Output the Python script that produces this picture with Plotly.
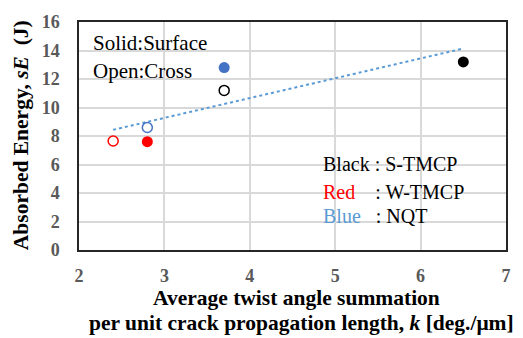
import numpy as np
import plotly.graph_objects as go

# Data (k, sE)
s_tmcp_surface_x = [6.5]
s_tmcp_surface_y = [13.2]
s_tmcp_cross_x = [3.7]
s_tmcp_cross_y = [11.2]
w_tmcp_surface_x = [2.8]
w_tmcp_surface_y = [7.6]
w_tmcp_cross_x = [2.4]
w_tmcp_cross_y = [7.65]
nqt_surface_x = [3.7]
nqt_surface_y = [12.8]
nqt_cross_x = [2.8]
nqt_cross_y = [8.6]

x_ticks = [2, 3, 4, 5, 6, 7]
y_ticks = [0, 2, 4, 6, 8, 10, 12, 14, 16]

all_x = (s_tmcp_surface_x + s_tmcp_cross_x + w_tmcp_surface_x + w_tmcp_cross_x
         + nqt_surface_x + nqt_cross_x)
all_y = (s_tmcp_surface_y + s_tmcp_cross_y + w_tmcp_surface_y + w_tmcp_cross_y
         + nqt_surface_y + nqt_cross_y)
slope, intercept = np.polyfit(all_x, all_y, 1)
trend_x = [min(all_x), max(all_x)]
trend_y = [slope * v + intercept for v in trend_x]

SERIF = "Liberation Serif"
BLUE = "#4472C4"
RED = "#FF0000"
BLACK = "#000000"


def sp(text, color="#000000"):
    return f"<span style='font-family:Liberation Serif;color:{color}'>{text}</span>"


fig = go.Figure()

fig.add_trace(go.Scatter(x=trend_x, y=trend_y, mode="lines",
                         line=dict(color="#5B9BD5", width=2, dash="dot"),
                         hoverinfo="skip"))

def filled(x, y, c):
    fig.add_trace(go.Scatter(x=x, y=y, mode="markers",
                             marker=dict(size=11, color=c, line=dict(width=0))))

def opened(x, y, c):
    fig.add_trace(go.Scatter(x=x, y=y, mode="markers",
                             marker=dict(size=10, color="rgba(255,255,255,1)",
                                         line=dict(width=1.5, color=c))))

filled(s_tmcp_surface_x, s_tmcp_surface_y, BLACK)
opened(s_tmcp_cross_x, s_tmcp_cross_y, BLACK)
filled(w_tmcp_surface_x, w_tmcp_surface_y, RED)
opened(w_tmcp_cross_x, w_tmcp_cross_y, RED)
filled(nqt_surface_x, nqt_surface_y, BLUE)
opened(nqt_cross_x, nqt_cross_y, BLUE)

tickfont = dict(family=SERIF, size=18, color="#595959")

fig.update_layout(
    width=523, height=338,
    margin=dict(l=79, r=15, t=14, b=88),
    paper_bgcolor="white", plot_bgcolor="white",
    showlegend=False,
    font=dict(family=SERIF),
    xaxis=dict(range=[2, 7], tickvals=x_ticks,
               ticktext=[sp(f"<b>{v}</b>", "#595959") for v in x_ticks],
               tickfont=tickfont, showgrid=True, gridcolor="#D9D9D9", gridwidth=1.5,
               zeroline=False, showline=True, linecolor="#262626", linewidth=1.5,
               mirror=True, ticks="outside", ticklen=9, tickcolor="rgba(0,0,0,0)"),
    yaxis=dict(range=[0, 16], tickvals=y_ticks,
               ticktext=[sp(f"<b>{v}</b>", "#595959") for v in y_ticks],
               tickfont=tickfont, showgrid=True, gridcolor="#D9D9D9", gridwidth=1.5,
               zeroline=False, showline=True, linecolor="#262626", linewidth=1.5,
               mirror=True, ticks="outside", ticklen=14, tickcolor="rgba(0,0,0,0)"),
)

# White box behind the "Solid/Open" note (covers grid lines)
fig.add_shape(type="rect", xref="paper", yref="paper", x0=0.002, x1=0.333, y0=0.686, y1=0.975,
              fillcolor="white", line=dict(width=0), layer="between")

ann = []
note_font = dict(family=SERIF, size=21, color="black")
ann.append(dict(xref="paper", yref="paper", x=0.028, y=0.91, xanchor="left", yanchor="middle",
                text=sp("Solid:Surface"), showarrow=False, font=note_font))
ann.append(dict(xref="paper", yref="paper", x=0.028, y=0.785, xanchor="left", yanchor="middle",
                text=sp("Open:Cross"), showarrow=False, font=note_font))
# Color key (bottom-right)
key_font = dict(family=SERIF, size=20, color="black")
ann.append(dict(xref="paper", yref="paper", x=0.567, y=0.378, xanchor="left", yanchor="middle",
                text=sp("Black : S-TMCP"), showarrow=False, font=key_font))
ann.append(dict(xref="paper", yref="paper", x=0.567, y=0.256, xanchor="left", yanchor="middle",
                text=sp("Red", "#FF0000") + sp("    : W-TMCP"), showarrow=False, font=key_font))
ann.append(dict(xref="paper", yref="paper", x=0.567, y=0.148, xanchor="left", yanchor="middle",
                text=sp("Blue", "#5B9BD5") + sp("   : NQT"), showarrow=False, font=key_font))
# Axis titles
title_font = dict(family=SERIF, size=21.5, color="black")
ann.append(dict(xref="paper", yref="paper", x=-0.135, y=0.505, xanchor="center", yanchor="middle",
                text=sp("<b>Absorbed Energy, <i>sE</i>  (J)</b>"), textangle=-90,
                showarrow=False, font=title_font))
ann.append(dict(xref="paper", yref="paper", x=0.510, y=-0.212, xanchor="center", yanchor="middle",
                text=sp("<b>Average twist angle summation</b>"), showarrow=False, font=title_font))
ann.append(dict(xref="paper", yref="paper", x=0.521, y=-0.318, xanchor="center", yanchor="middle",
                text=sp("<b>per unit crack propagation length, <i>k</i> [deg./μm]</b>"),
                showarrow=False, font=title_font))
fig.update_layout(annotations=ann)

fig.write_html("out.html")
